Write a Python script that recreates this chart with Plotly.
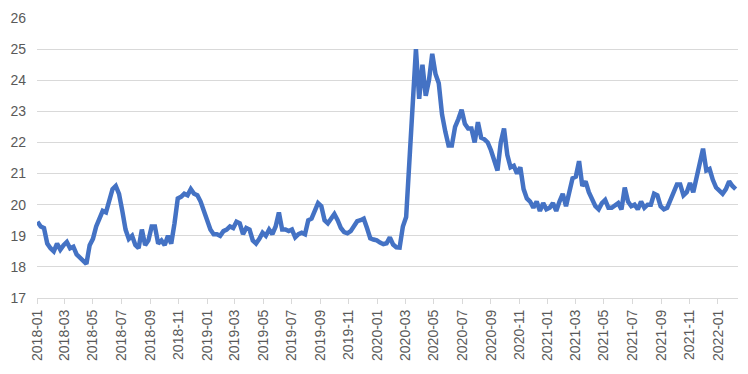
import pandas as pd
import plotly.graph_objects as go

# Weekly readings (first observation 2018-01-02)
start_date = "2018-01-02"

v2018 = [19.45, 19.3, 19.25, 18.75, 18.6, 18.5, 18.75, 18.55, 18.7, 18.8,
         18.6, 18.65, 18.4, 18.3, 18.2, 18.1, 18.7, 18.9, 19.3, 19.6,
         19.8, 19.75, 20.1, 20.5, 20.6, 20.35, 19.8, 19.2, 18.9, 19.0,
         18.7, 18.6, 19.2, 18.7, 18.85, 19.3, 19.3, 18.75, 18.85, 18.7,
         19.0, 18.75, 19.4, 20.2, 20.25, 20.35, 20.3, 20.5, 20.35, 20.3,
         20.1, 19.8]
v2019 = [19.5, 19.2, 19.05, 19.05, 19.0, 19.15, 19.2, 19.3, 19.25, 19.45,
         19.4, 19.05, 19.25, 19.2, 18.85, 18.75, 18.9, 19.1, 19.0, 19.2,
         19.05, 19.3, 19.75, 19.2, 19.2, 19.15, 19.2, 18.95, 19.05, 19.1,
         19.05, 19.5, 19.55, 19.8, 20.05, 19.95, 19.5, 19.4, 19.55, 19.7,
         19.5, 19.25, 19.12, 19.08, 19.15, 19.3, 19.47, 19.5, 19.55, 19.25,
         18.92, 18.88]
v2020 = [18.85, 18.78, 18.73, 18.76, 18.95, 18.72, 18.63, 18.62, 19.3, 19.6,
         21.3, 23.5, 25.0, 23.4, 24.5, 23.5, 24.0, 24.85, 24.2, 23.9,
         22.9, 22.35, 21.9, 21.9, 22.5, 22.75, 23.05, 22.6, 22.45, 22.45,
         22.0, 22.65, 22.15, 22.1, 22.0, 21.75, 21.45, 21.1, 22.0, 22.45,
         21.6, 21.2, 21.25, 21.0, 21.2, 20.5, 20.2, 20.1, 19.9, 20.1,
         19.8, 20.05]
v2021 = [19.85, 19.9, 20.05, 19.8, 20.1, 20.35, 19.95, 20.35, 20.85, 20.9,
         21.4, 20.6, 20.75, 20.4, 20.2, 19.95, 19.85, 20.05, 20.15, 19.9,
         19.9, 20.0, 20.05, 19.85, 20.55, 20.1, 19.95, 20.0, 19.85, 20.1,
         19.9, 20.0, 20.0, 20.35, 20.3, 19.95, 19.85, 19.9, 20.15, 20.45,
         20.65, 20.65, 20.3, 20.4, 20.7, 20.4, 20.85, 21.4, 21.8, 21.1,
         21.15, 20.8]
v2022 = [20.55, 20.45, 20.35, 20.5, 20.75, 20.6, 20.5]

values = v2018 + v2019 + v2020 + v2021 + v2022
dates = pd.date_range(start_date, periods=len(values), freq="7D")

y_ticks = list(range(17, 27))

fig = go.Figure()
fig.add_trace(go.Scatter(
    x=dates, y=values, mode="lines",
    line=dict(color="#4472C4", width=4.5),
    hoverinfo="skip", showlegend=False,
))

font_family = "Liberation Sans, Arial, sans-serif"
fig.update_layout(
    width=748, height=374,
    margin=dict(l=35, r=10, t=17, b=76),
    paper_bgcolor="white", plot_bgcolor="white",
    font=dict(family=font_family, size=14, color="#595959"),
)
fig.update_xaxes(
    type="date",
    range=["2018-01-01", "2022-02-13"],
    tick0="2018-01-01", dtick="M2", tickformat="%Y-%m",
    tickangle=-90,
    ticks="outside", ticklen=5, tickcolor="#d9d9d9",
    showline=True, linecolor="#d9d9d9", linewidth=1,
    showgrid=False, zeroline=False,
    tickfont=dict(size=14, color="#595959"),
)
fig.update_yaxes(
    range=[17, 26], tickvals=y_ticks,
    showgrid=True, gridcolor="#d9d9d9", gridwidth=1,
    zeroline=False, showline=False,
    ticks="", ticklabelstandoff=10,
    tickfont=dict(size=14, color="#595959"),
)

fig.write_html(
    "out.html",
    config={"displayModeBar": False, "staticPlot": True},
    post_script="document.body.style.margin='0';document.body.style.overflow='hidden';",
)
